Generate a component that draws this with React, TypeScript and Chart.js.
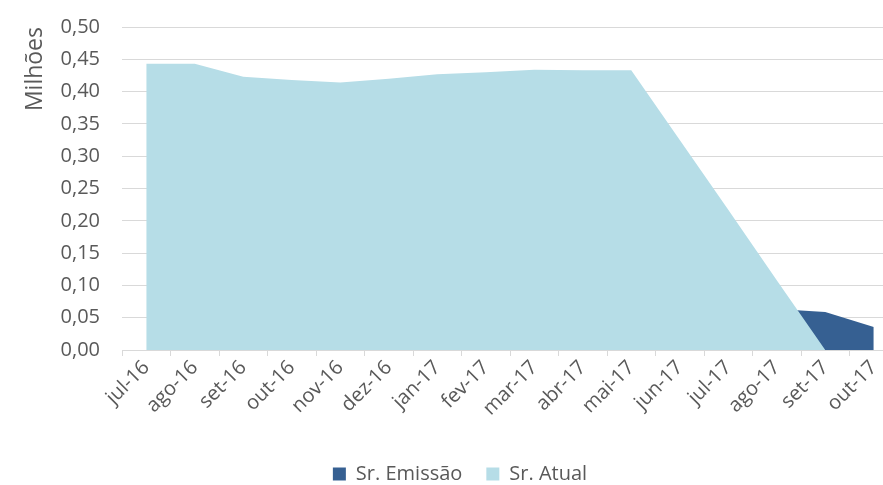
import React, { useEffect, useRef } from "react";
import { Chart, registerables } from "chart.js";

Chart.register(...registerables);

const categories = [
  "jul-16", "ago-16", "set-16", "out-16", "nov-16", "dez-16",
  "jan-17", "fev-17", "mar-17", "abr-17", "mai-17", "jun-17",
  "jul-17", "ago-17", "set-17", "out-17",
];

const srAtual = [
  0.443, 0.443, 0.423, 0.418, 0.414, 0.42,
  0.427, 0.43, 0.434, 0.433, 0.433, 0.325,
  0.217, 0.108, 0, null,
];

const srEmissao = [
  null, null, null, null, null, null,
  null, null, null, null, null, null,
  null, 0.0635, 0.059, 0.0355,
];

const yTickMin = 0;
const yTickMax = 0.5;
const yTickStep = 0.05;

const FONT = "'Open Sans', 'Noto Sans', sans-serif";
const TEXT = "#595959";
const GRID = "#d9d9d9";

export default function App() {
  const ref = useRef<HTMLCanvasElement | null>(null);

  useEffect(() => {
    if (!ref.current) return;
    const chart = new Chart(ref.current, {
      type: "line",
      data: {
        labels: categories,
        datasets: [
          {
            label: "Sr. Atual",
            data: srAtual,
            backgroundColor: "#b6dde7",
            borderColor: "#b6dde7",
            borderWidth: 0,
            pointRadius: 0,
            fill: "origin",
            tension: 0,
          },
          {
            label: "Sr. Emissão",
            data: srEmissao,
            backgroundColor: "#366092",
            borderColor: "#366092",
            borderWidth: 0,
            pointRadius: 0,
            fill: "origin",
            tension: 0,
          },
        ],
      },
      options: {
        responsive: false,
        animation: false,
        layout: { padding: { left: 22, right: 12, top: 27, bottom: -9 } },
        plugins: {
          tooltip: { enabled: false },
          legend: {
            position: "bottom",
            labels: {
              sort: (a: any, b: any) => b.datasetIndex - a.datasetIndex,
              boxWidth: 13,
              boxHeight: 13,
              padding: 24,
              color: TEXT,
              font: { family: FONT, size: 20 },
            },
          },
        },
        scales: {
          x: {
            type: "category",
            offset: true,
            grid: {
              offset: true,
              drawOnChartArea: false,
              drawTicks: true,
              tickLength: 6,
              color: GRID,
            },
            border: { color: GRID, width: 1 },
            ticks: {
              autoSkip: false,
              maxRotation: 45,
              minRotation: 45,
              color: TEXT,
              padding: 0,
              font: { family: FONT, size: 20 },
            },
            afterFit: (s: any) => {
              s.height = 90;
            },
          },
          y: {
            min: yTickMin,
            max: yTickMax,
            ticks: {
              stepSize: yTickStep,
              color: TEXT,
              padding: 0,
              font: { family: FONT, size: 20 },
              callback: (v: any) => Number(v).toFixed(2).replace(".", ","),
            },
            grid: {
              color: GRID,
              drawTicks: true,
              tickLength: 22,
              tickColor: "rgba(0,0,0,0)",
            },
            border: { display: false },
            title: {
              display: true,
              text: "Milhões",
              align: "end",
              color: TEXT,
              font: { family: FONT, size: 23 },
              padding: 0,
            },
            afterFit: (s: any) => {
              s.width = 100;
            },
          },
        },
      },
    });
    return () => chart.destroy();
  }, []);

  return (
    <div
      style={{
        position: "fixed",
        left: 0,
        top: 0,
        width: 883,
        height: 485,
        overflow: "hidden",
        background: "#fff",
      }}
    >
      <canvas ref={ref} width={910} height={485} style={{ display: "block" }} />
    </div>
  );
}
